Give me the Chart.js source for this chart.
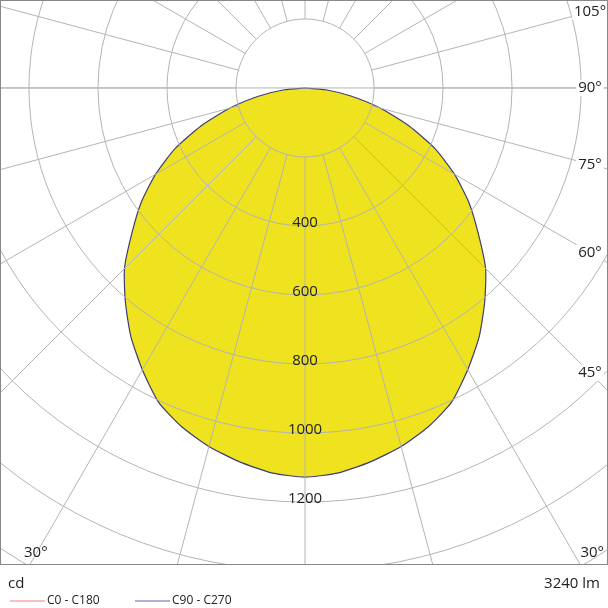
<!DOCTYPE html>
<html><head><meta charset="utf-8">
<script src="https://cdn.jsdelivr.net/npm/chart.js@4/dist/chart.umd.min.js"></script>
<style>html,body{margin:0;padding:0;background:#fff}#w{width:608px;height:608px;position:relative}</style>
</head><body><div id="w"><canvas id="c"></canvas></div>
<script>
const angles = [0,5,10,15,20,25,30,35,40,45,50,55,60,65,70,75,80,85,90];
const intensity = [1128,1120,1100,1076,1045,1005,943,880,810,740,655,580,500,415,320,225,135,60,0];
const ringValues = [200,400,600,800,1000,1200,1400,1600,1800,2000,2200,2400];
const ringLabels = ["400","600","800","1000","1200"];
const angleLabels = [["105°",105],["90°",90],["75°",75],["60°",60],["45°",45]];

const pts = [];
for (let i = angles.length-1; i >= 0; i--) { const a = -angles[i]*Math.PI/180; pts.push({x: intensity[i]*Math.sin(a), y: -intensity[i]*Math.cos(a)}); }
for (let i = 1; i < angles.length; i++) { const a = angles[i]*Math.PI/180; pts.push({x: intensity[i]*Math.sin(a), y: -intensity[i]*Math.cos(a)}); }

const grid = {
  id:'grid',
  afterDatasetsDraw(ch){
    const {ctx, chartArea:ca, scales:{x,y}} = ch;
    const cx = x.getPixelForValue(0), cy = y.getPixelForValue(0);
    const k = x.getPixelForValue(1000)-cx;
    ctx.save();
    ctx.beginPath(); ctx.rect(ca.left,ca.top,ca.right-ca.left,ca.bottom-ca.top); ctx.clip();
    ctx.strokeStyle='#b4b4b4'; ctx.lineWidth=1;
    ringValues.forEach(v=>{ctx.beginPath();ctx.arc(cx,cy,v*k/1000,0,Math.PI*2);ctx.stroke();});
    for(let d=0; d<360; d+=15){
      const a=d*Math.PI/180, r0=200*k/1000, r1=3000*k/1000;
      ctx.beginPath();
      ctx.moveTo(cx+r0*Math.sin(a),cy+r0*Math.cos(a));
      ctx.lineTo(cx+r1*Math.sin(a),cy+r1*Math.cos(a));
      ctx.stroke();
    }
    ctx.beginPath();ctx.moveTo(ca.left,cy);ctx.lineTo(ca.right,cy);ctx.stroke();
    ctx.restore();
    ctx.save();
    ctx.fillStyle='#222'; ctx.font='15px "Open Sans", sans-serif';
    ctx.textAlign='center'; ctx.textBaseline='middle';
    ringLabels.forEach(t=>{ctx.fillText(t,cx,y.getPixelForValue(-Number(t))-3);});
    const lx = ca.right-18;
    angleLabels.forEach(([t,d])=>{
      const a=d*Math.PI/180; const py = cy + (lx-cx)*Math.cos(a)/Math.sin(a);
      ctx.fillStyle='#fff'; const w=ctx.measureText(t).width; ctx.fillRect(lx-w/2-2,py-8,w+4,16);
      ctx.fillStyle='#222'; ctx.fillText(t, lx, py);
    });
    ctx.textAlign='right';
    ctx.fillText('30°', ca.right-4, ca.bottom-12);
    ctx.textAlign='left'; ctx.fillText('30°', ca.left+24, ca.bottom-12);
    ctx.strokeStyle='#888'; ctx.strokeRect(ca.left+0.5,ca.top+0.5,ca.right-ca.left-1,ca.bottom-ca.top-1);
    ctx.textAlign='left'; ctx.fillText('cd', 8, 584);
    ctx.textAlign='right'; ctx.fillText('3240 lm', 600, 584);
    ctx.font='12px "Open Sans", sans-serif'; ctx.textAlign='left';
    ctx.strokeStyle='#f08080'; ctx.beginPath(); ctx.moveTo(10,601); ctx.lineTo(45,601); ctx.stroke();
    ctx.fillText('C0 - C180', 47, 601);
    ctx.strokeStyle='#6060b0'; ctx.beginPath(); ctx.moveTo(135,601); ctx.lineTo(170,601); ctx.stroke();
    ctx.fillText('C90 - C270', 172, 601);
    ctx.restore();
  }
};

new Chart(document.getElementById('c'), {
  type:'scatter',
  data:{datasets:[{data:pts, showLine:true, fill:'shape', backgroundColor:'#efe21e', borderColor:'#3c3c78', borderWidth:1.2, pointRadius:0, tension:0.2}]},
  options:{
    responsive:true, maintainAspectRatio:false, animation:false,
    layout:{padding:{left:0,right:0,top:0,bottom:43}},
    plugins:{legend:{display:false},tooltip:{enabled:false}},
    scales:{x:{display:false,min:-884,max:878},y:{display:false,min:-1383,max:255}}
  },
  plugins:[grid]
});
</script></body></html>
